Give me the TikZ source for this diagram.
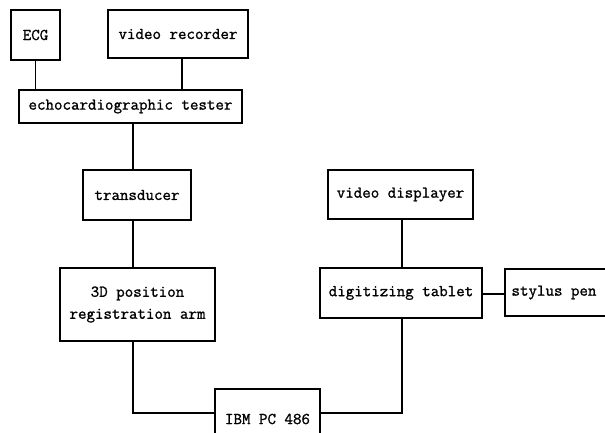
\documentclass[tikz,border=0pt]{standalone}
\usepackage{fontspec}
\newfontfamily\boxfont[FakeBold=1.2]{Latin Modern Mono}
\begin{document}
\begin{tikzpicture}[x=1pt,y=-1pt,
  box/.style={draw,line width=1.1pt,inner sep=0pt,align=center,font=\fontsize{16.5}{20}\boxfont},
  conn/.style={line width=1.1pt}]
\useasboundingbox (0,0) rectangle (605,433);
\clip (0,0) rectangle (605,433);
\node[box,minimum width=49pt,minimum height=50pt] (ecg) at (35.5,35) {ECG};
\node[box,minimum width=140pt,minimum height=48pt] (vr) at (178,34) {video recorder};
\node[box,minimum width=223pt,minimum height=33pt] (echo) at (130.5,106.5) {echocardiographic tester};
\node[box,minimum width=108pt,minimum height=50pt] (tr) at (137,195) {transducer};
\node[box,minimum width=155pt,minimum height=73pt] (arm) at (137.5,304.5) {3D position\\[2pt]registration arm};
\node[box,minimum width=105pt,minimum height=60pt] (ibm) at (267.5,419) {IBM PC 486};
\node[box,minimum width=145pt,minimum height=49pt] (vd) at (400.5,194.5) {video displayer};
\node[box,minimum width=162pt,minimum height=50pt] (dt) at (401,293) {digitizing tablet};
\node[box,minimum width=110pt,minimum height=47pt] (sp) at (560,292.5) {\hspace*{-12pt}stylus pen};
\coordinate (c1) at (133,413);
\coordinate (c2) at (402,413);
\draw[conn] (ecg.south) -- (ecg.south |- echo.north);
\draw[conn] (vr.south -| 182,0) -- (182,0 |- echo.north);
\draw[conn] (133,0 |- echo.south) -- (133,0 |- tr.north);
\draw[conn] (133,0 |- tr.south) -- (133,0 |- arm.north);
\draw[conn] (133,0 |- arm.south) -- (c1) -- (c1 -| ibm.west);
\draw[conn] (c2 -| ibm.east) -- (c2) -- (402,0 |- dt.south);
\draw[conn] (402,0 |- vd.south) -- (402,0 |- dt.north);
\draw[line width=2pt] (dt.east |- 0,294) -- (sp.west |- 0,294);
\end{tikzpicture}
\end{document}
